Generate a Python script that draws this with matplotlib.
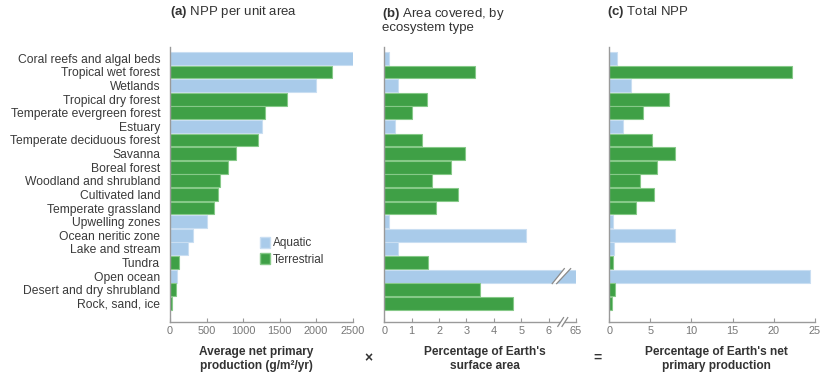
import numpy as np
import matplotlib
matplotlib.use("Agg")
import matplotlib.pyplot as plt
from matplotlib.patches import Patch, Polygon

plt.rcParams['font.family'] = ['Liberation Sans', 'DejaVu Sans']
plt.rcParams['mathtext.fontset'] = 'custom'
plt.rcParams['mathtext.rm'] = 'Liberation Sans'
plt.rcParams['mathtext.bf'] = 'Liberation Sans:bold'

# data
ecosystems = ["Coral reefs and algal beds", "Tropical wet forest", "Wetlands",
              "Tropical dry forest", "Temperate evergreen forest", "Estuary",
              "Temperate deciduous forest", "Savanna", "Boreal forest",
              "Woodland and shrubland", "Cultivated land", "Temperate grassland",
              "Upwelling zones", "Ocean neritic zone", "Lake and stream", "Tundra",
              "Open ocean", "Desert and dry shrubland", "Rock, sand, ice"]
kind = ["A", "T", "A", "T", "T", "A", "T", "T", "T", "T", "T", "T",
        "A", "A", "A", "T", "A", "T", "T"]
npp_per_area = [2500, 2220, 2000, 1600, 1300, 1260, 1200, 900, 800, 680, 650,
                600, 500, 320, 240, 125, 100, 80, 30]
area_pct = [0.17, 3.3, 0.5, 1.55, 1.0, 0.4, 1.38, 2.95, 2.42, 1.73, 2.7, 1.87,
            0.17, 5.17, 0.5, 1.6, 65, 3.5, 4.7]
total_npp = [0.9, 22.2, 2.6, 7.3, 4.15, 1.65, 5.2, 8.0, 5.75, 3.7, 5.4, 3.3,
             0.4, 8.0, 0.6, 0.5, 24.4, 0.75, 0.3]

blue, blue_edge = "#a9cbea", "#c9def2"
green, green_edge = "#3fa046", "#86c988"
colors = [blue if k == "A" else green for k in kind]
edges = [blue_edge if k == "A" else green_edge for k in kind]

W, H = 833, 378
fig = plt.figure(figsize=(W / 100, H / 100), dpi=100)


def px_axes(x0, x1, y0=47, y1=322):
    return fig.add_axes([x0 / W, 1 - y1 / H, (x1 - x0) / W, (y1 - y0) / H])


ax_a = px_axes(170, 352.7)
ax_b = px_axes(384.3, 576)
ax_c = px_axes(609.3, 814.7)

y = np.arange(len(ecosystems))

# broken axis for panel b: everything above 6.5 squeezed into half a unit
brk, k = 6.5, 0.5 / 58.5


def fwd(v):
    v = np.asarray(v, dtype=float)
    return np.where(v <= brk, v, brk + (v - brk) * k)


def inv(v):
    v = np.asarray(v, dtype=float)
    return np.where(v <= brk, v, brk + (v - brk) / k)


ax_b.set_xscale('function', functions=(fwd, inv))

for ax, vals in [(ax_a, npp_per_area), (ax_b, area_pct), (ax_c, total_npp)]:
    ax.barh(y, vals, height=0.94, color=colors, edgecolor=edges, linewidth=0.8)
    ax.set_ylim(len(y) - 1 + 1.37, -0.83)
    for s in ['top', 'right']:
        ax.spines[s].set_visible(False)
    for s in ['left', 'bottom']:
        ax.spines[s].set_color('#9a9a9a')
        ax.spines[s].set_linewidth(1.0)
    ax.tick_params(axis='x', direction='in', length=3, color='#9a9a9a',
                   labelsize=7.9, labelcolor='#777777', pad=3)
    ax.set_yticks([])

ax_a.set_xlim(0, 2500)
ax_a.set_xticks([0, 500, 1000, 1500, 2000, 2500])
ax_a.set_yticks(y)
ax_a.set_yticklabels(ecosystems, fontsize=8.7, color='#3a3a3a')
ax_a.tick_params(axis='y', length=0, pad=7)

ax_b.set_xlim(0, 65)
ax_b.set_xticks([0, 1, 2, 3, 4, 5, 6, 65])
ax_b.set_xticklabels(['0', '1', '2', '3', '4', '5', '6', '65'])

ax_c.set_xlim(0, 25)
ax_c.set_xticks([0, 5, 10, 15, 20, 25])

# break marks on the open-ocean bar and on the x axis of panel b
tb = ax_b.get_yaxis_transform()
i_oo = ecosystems.index("Open ocean")
y_lo, y_hi = i_oo + 0.55, i_oo - 0.55
ax_b.add_patch(Polygon([(0.876, y_lo), (0.899, y_lo), (0.972, y_hi), (0.939, y_hi)],
                       closed=True, transform=tb, facecolor='white',
                       edgecolor='none', clip_on=False, zorder=3))
for x0, x1 in [(0.876, 0.939), (0.899, 0.972)]:
    ax_b.plot([x0, x1], [y_lo, y_hi], transform=tb, color='#8a8a8a', lw=0.9,
              clip_on=False, zorder=4)
ta = ax_b.transAxes
ax_b.add_patch(Polygon([(0.905, -0.016), (0.927, -0.016), (0.957, 0.016), (0.935, 0.016)],
                       closed=True, transform=ta, facecolor='white',
                       edgecolor='none', clip_on=False, zorder=3))
for x0, x1 in [(0.905, 0.935), (0.927, 0.957)]:
    ax_b.plot([x0, x1], [-0.016, 0.016], transform=ta, color='#8a8a8a', lw=0.9,
              clip_on=False, zorder=4)

# legend
handles = [Patch(facecolor=blue, edgecolor=blue_edge, label='Aquatic'),
           Patch(facecolor=green, edgecolor=green_edge, label='Terrestrial')]
ax_a.legend(handles=handles, loc='upper left', bbox_to_anchor=(0.49, 0.31),
            frameon=False, fontsize=8.5, handlelength=0.85, handleheight=1.1,
            handletextpad=0.3, labelspacing=0.3, borderpad=0, borderaxespad=0,
            labelcolor='#3a3a3a')


def ftext(xp, yp, s, **kw):
    fig.text(xp / W, 1 - yp / H, s, **kw)


# panel titles
ftext(170, 12, r"$\bf{(a)}$ NPP per unit area", fontsize=9.5, color='#333333',
      va='center', ha='left')
ftext(382, 20, "$\\bf{(b)}$ Area covered, by\necosystem type", fontsize=9.5,
      color='#333333', va='center', ha='left', linespacing=1.1)
ftext(607, 12, r"$\bf{(c)}$ Total NPP", fontsize=9.5, color='#333333',
      va='center', ha='left')

# x-axis labels
lab = dict(fontsize=8.6, fontweight='bold', color='#333333', ha='center',
           va='center', linespacing=1.15)
ftext(256, 359, "Average net primary\nproduction (g/m²/yr)", **lab)
ftext(485, 359, "Percentage of Earth's\nsurface area", **lab)
ftext(716, 359, "Percentage of Earth's net\nprimary production", **lab)

ftext(368, 358, "×", fontsize=10, fontweight='bold', color='#333333',
      ha='center', va='center')
ftext(597, 358, "=", fontsize=10, fontweight='bold', color='#333333',
      ha='center', va='center')

fig.savefig("out.png", dpi=100)
